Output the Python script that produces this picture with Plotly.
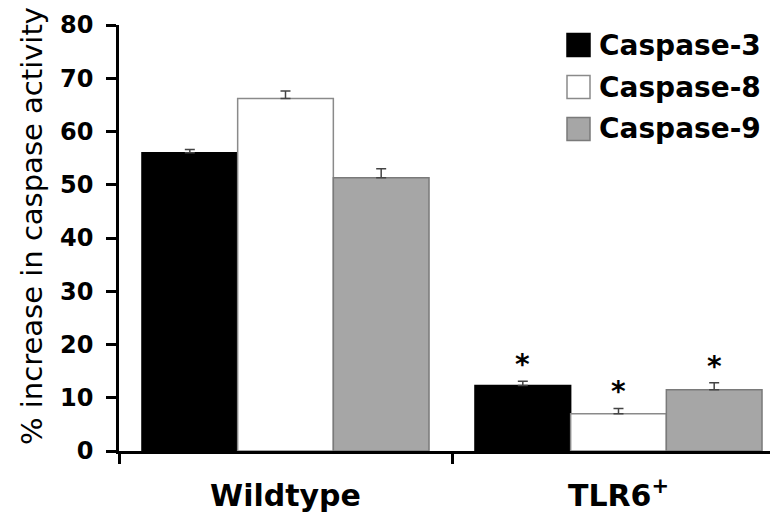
import plotly.graph_objects as go

categories = ["Wildtype", "TLR6<sup>+</sup>"]
series_names = ["Caspase-3", "Caspase-8", "Caspase-9"]
caspase3 = [56.0, 12.3]
caspase8 = [66.2, 7.0]
caspase9 = [51.3, 11.5]
caspase3_err = [0.6, 0.8]
caspase8_err = [1.4, 1.0]
caspase9_err = [1.7, 1.3]
significant = [[False, True], [False, True], [False, True]]
y_ticks = [0, 10, 20, 30, 40, 50, 60, 70, 80]
y_title = "% increase in caspase activity"

values = [caspase3, caspase8, caspase9]
errors = [caspase3_err, caspase8_err, caspase9_err]
fills = ["#000000", "#ffffff", "#a6a6a6"]
outlines = ["#000000", "#8a8a8a", "#7a7a7a"]

FONT = "DejaVu Sans"
OFF = 8  # page body margin
W, H = 778 - OFF, 526 - OFF
L, R, T, B = 119 - OFF, 778 - OFF, 25 - OFF, 451 - OFF

fig = go.Figure()
for name, v, e, fc, lc in zip(series_names, values, errors, fills, outlines):
    fig.add_trace(go.Bar(
        x=categories, y=v, name=name,
        marker=dict(color=fc, line=dict(color=lc, width=1.5)),
        error_y=dict(type="data", array=e, arrayminus=[0] * len(e), symmetric=False,
                     color="#444444", thickness=1.5, width=5),
        showlegend=False,
    ))

bargap = 0.138
w = (1 - bargap) / 3
for i, (v, e, sig) in enumerate(zip(values, errors, significant)):
    for j in range(len(categories)):
        if sig[j]:
            fig.add_annotation(x=j + (i - 1) * w, y=v[j] + e[j], xref="x", yref="y",
                               text="*", showarrow=False, yanchor="bottom", yshift=-2,
                               font=dict(family=FONT, size=28, color="black", weight="bold"))

# reference pixel layout converted to paper coords
def px(x):
    return (x - OFF - L) / (R - L)
def py(y):
    return (B - (y - OFF)) / (B - T)

for k, (name, fc, lc) in enumerate(zip(series_names, fills, outlines)):
    cy = 45 + k * 42
    fig.add_shape(type="rect", xref="paper", yref="paper",
                  x0=px(567), x1=px(590), y0=py(cy + 11.5), y1=py(cy - 11.5),
                  fillcolor=fc, line=dict(color=lc, width=1.5))
    fig.add_annotation(xref="paper", yref="paper", x=px(597), y=py(cy), text=name,
                       showarrow=False, xanchor="left", yanchor="middle",
                       font=dict(family=FONT, size=28, color="black", weight="bold"))

fig.add_annotation(xref="paper", yref="paper", x=px(32), y=py(226), text=y_title, textangle=-90,
                   showarrow=False, xanchor="center", yanchor="middle",
                   font=dict(family=FONT, size=29, color="black"))

fig.update_layout(
    width=W, height=H,
    margin=dict(l=L, r=W - R, t=T, b=H - B, pad=0),
    paper_bgcolor="white", plot_bgcolor="white",
    barmode="group", bargap=bargap, bargroupgap=0,
    font=dict(family=FONT, color="black"),
    xaxis=dict(type="category", range=[-0.5, 1.479], showline=True, linecolor="black", linewidth=2.5,
               ticks="outside", tickson="boundaries", ticklen=10, tickwidth=2.5, tickcolor="black",
               tickfont=dict(family=FONT, size=30, color="black", weight="bold"), showgrid=False,
               ticklabelstandoff=16, automargin=False),
    yaxis=dict(range=[0, 80], tickvals=y_ticks, showline=True, linecolor="black", linewidth=2.5,
               ticks="outside", ticklen=10, tickwidth=2.5, tickcolor="black", showgrid=False, zeroline=False,
               tickfont=dict(family=FONT, size=24, color="black", weight="bold"),
               ticklabelstandoff=8, automargin=False),
)
fig.write_html("out.html")
